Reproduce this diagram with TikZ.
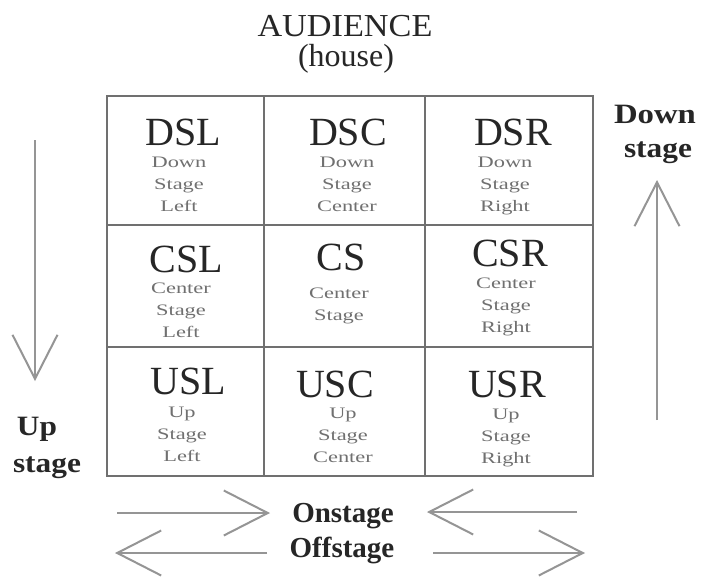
\documentclass[tikz,border=0pt]{standalone}
\usepackage{fontspec}
\setmainfont{Liberation Serif}
\usetikzlibrary{arrows.meta}
\definecolor{gridgray}{HTML}{707070}
\definecolor{arrowgray}{HTML}{959595}
\definecolor{biglabel}{HTML}{262626}
\definecolor{smalllabel}{HTML}{707070}
\newcommand\sx[1]{\scalebox{1.4}[1]{#1}}
\newcommand\lines[1]{\begin{tabular}[t]{@{}c@{}}#1\end{tabular}}
\begin{document}
\begin{tikzpicture}[x=1pt,y=-1pt,
  gridline/.style={draw=gridgray,line width=2.4pt},
  big/.style={anchor=base,inner sep=0pt,text=biglabel,font=\fontsize{40}{40}\selectfont},
  small/.style={anchor=base,inner sep=0pt,text=smalllabel,font=\fontsize{16}{22}\selectfont},
  heading/.style={anchor=base,inner sep=0pt,text=biglabel,font=\fontsize{32}{32}\selectfont},
  side/.style={anchor=base,inner sep=0pt,text=biglabel,font=\bfseries\fontsize{28}{28}\selectfont},
  bottom/.style={anchor=base,inner sep=0pt,text=biglabel,font=\bfseries\fontsize{29}{29}\selectfont},
  flow/.style={draw=arrowgray,line width=2pt,-{Straight Barb[length=44pt,width=45pt,line width=2pt]}}
]
\useasboundingbox (0,0) rectangle (701,576);
\fill[white] (0,0) rectangle (701,576);

% stage grid
\draw[gridline] (107,96) rectangle (593,476);
\draw[gridline] (264,96) -- (264,476) (425,96) -- (425,476);
\draw[gridline] (107,225) -- (593,225) (107,347) -- (593,347);

% heading
\node[heading] (aud) at (345,36) {\scalebox{1.07}[1]{AUDIENCE}};
\node[heading] (house) at (346,66) {(house)};

% downstage row
\node[big] (dsl) at (183,145) {DSL};
\node[small] (dslt) at (179,167) {\lines{\sx{Down}\\\sx{Stage}\\\sx{Left}}};
\node[big] (dsc) at (348,145) {DSC};
\node[small] (dsct) at (347,167) {\lines{\sx{Down}\\\sx{Stage}\\\sx{Center}}};
\node[big] (dsr) at (513,145) {DSR};
\node[small] (dsrt) at (505,167) {\lines{\sx{Down}\\\sx{Stage}\\\sx{Right}}};

% center row
\node[big] (csl) at (186,272) {CSL};
\node[small] (cslt) at (181,293) {\lines{\sx{Center}\\\sx{Stage}\\\sx{Left}}};
\node[big] (cs) at (341,270) {CS};
\node[small] (cst) at (339,298) {\lines{\sx{Center}\\\sx{Stage}}};
\node[big] (csr) at (510,266) {CSR};
\node[small] (csrt) at (506,288) {\lines{\sx{Center}\\\sx{Stage}\\\sx{Right}}};

% upstage row
\node[big] (usl) at (188,394) {USL};
\node[small] (uslt) at (182,417) {\lines{\sx{Up}\\\sx{Stage}\\\sx{Left}}};
\node[big] (usc) at (335,397) {USC};
\node[small] (usct) at (343,418) {\lines{\sx{Up}\\\sx{Stage}\\\sx{Center}}};
\node[big] (usr) at (507,397) {USR};
\node[small] (usrt) at (506,419) {\lines{\sx{Up}\\\sx{Stage}\\\sx{Right}}};

% side labels
\node[side] (dn1) at (655,123) {\scalebox{1.17}[1]{Down}};
\node[side] (dn2) at (658,157) {\scalebox{1.12}[1]{stage}};
\node[side] (up1) at (37,435) {\scalebox{1.12}[1]{Up}};
\node[side] (up2) at (47,472) {\scalebox{1.12}[1]{stage}};

% bottom labels
\node[bottom] (on) at (343,522) {Onstage};
\node[bottom] (off) at (342,557) {Offstage};

% arrow end points
\coordinate (upS) at (35,140);
\coordinate (upE) at (35,381);
\coordinate (dnS) at (657,420);
\coordinate (dnE) at (657,180);
\coordinate (onLS) at (117,513);
\coordinate (onLE) at (270,513);
\coordinate (onRS) at (577,512);
\coordinate (onRE) at (427,512);
\coordinate (offLS) at (267,553);
\coordinate (offLE) at (115,553);
\coordinate (offRS) at (433,553);
\coordinate (offRE) at (585,553);

\draw[flow] (upS) -- (upE);
\draw[flow] (dnS) -- (dnE);
\draw[flow] (onLS) -- (onLE);
\draw[flow] (onRS) -- (onRE);
\draw[flow] (offLS) -- (offLE);
\draw[flow] (offRS) -- (offRE);
\end{tikzpicture}
\end{document}
